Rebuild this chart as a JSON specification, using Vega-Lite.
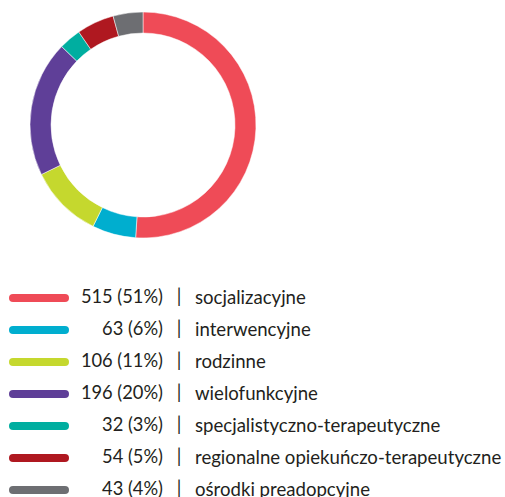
{
  "$schema": "https://vega.github.io/schema/vega-lite/v6.json",
  "padding": 0,
  "spacing": 48,
  "bounds": "flush",
  "background": "white",
  "config": {"view": {"stroke": null}, "text": {"font": "Lato"}},
  "data": {
    "values": [
      {"i": 1, "cat": "socjalizacyjne", "value": 515, "lbl": "515 (51%)"},
      {"i": 2, "cat": "interwencyjne", "value": 63, "lbl": "63 (6%)"},
      {"i": 3, "cat": "rodzinne", "value": 106, "lbl": "106 (11%)"},
      {"i": 4, "cat": "wielofunkcyjne", "value": 196, "lbl": "196 (20%)"},
      {"i": 5, "cat": "specjalistyczno-terapeutyczne", "value": 32, "lbl": "32 (3%)"},
      {"i": 6, "cat": "regionalne opiekuńczo-terapeutyczne", "value": 54, "lbl": "54 (5%)"},
      {"i": 7, "cat": "ośrodki preadopcyjne", "value": 43, "lbl": "43 (4%)"}
    ]
  },
  "vconcat": [
    {
      "width": 286,
      "height": 250,
      "mark": {"type": "arc", "outerRadius": 113, "innerRadius": 92, "stroke": "white", "strokeWidth": 0.5},
      "encoding": {
        "theta": {"field": "value", "type": "quantitative", "stack": true},
        "order": {"field": "i", "type": "quantitative"},
        "color": {
          "field": "cat", "type": "nominal", "legend": null,
          "scale": {
            "domain": ["socjalizacyjne", "interwencyjne", "rodzinne", "wielofunkcyjne", "specjalistyczno-terapeutyczne", "regionalne opiekuńczo-terapeutyczne", "ośrodki preadopcyjne"],
            "range": ["#EF4B57", "#00AECF", "#C5D82E", "#5F3F98", "#00AEA0", "#AF1820", "#6D6E72"]
          }
        }
      }
    },
    {
      "width": 505,
      "height": 192,
      "encoding": {
        "y": {
          "field": "cat", "type": "nominal", "axis": null, "sort": {"field": "i"},
          "scale": {"type": "point", "padding": 0}
        }
      },
      "layer": [
        {
          "mark": {"type": "rule", "strokeWidth": 8, "strokeCap": "round"},
          "encoding": {
            "x": {"datum": 13, "type": "quantitative", "axis": null, "scale": {"domain": [0, 505], "nice": false, "zero": false}},
            "x2": {"datum": 65},
            "color": {"field": "cat", "type": "nominal", "legend": null}
          }
        },
        {
          "mark": {"type": "text", "align": "right", "baseline": "middle", "fontSize": 18.3, "fill": "#231F20"},
          "encoding": {
            "x": {"datum": 163, "type": "quantitative"},
            "text": {"field": "lbl"}
          }
        },
        {
          "mark": {"type": "text", "align": "center", "baseline": "middle", "fontSize": 18.3, "fill": "#231F20", "text": "|"},
          "encoding": {
            "x": {"datum": 179, "type": "quantitative"}
          }
        },
        {
          "mark": {"type": "text", "align": "left", "baseline": "middle", "fontSize": 18.6, "fill": "#231F20"},
          "encoding": {
            "x": {"datum": 195, "type": "quantitative"},
            "text": {"field": "cat"}
          }
        }
      ]
    }
  ]
}
